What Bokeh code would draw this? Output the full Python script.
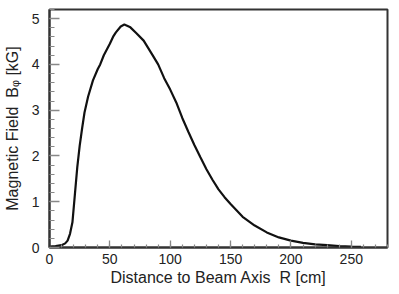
from bokeh.plotting import figure
from bokeh.models import Range1d, SingleIntervalTicker
from bokeh.embed import file_html
from bokeh.resources import INLINE

# Data
radius_cm = [0, 5, 10, 13, 15, 17, 19, 21, 23, 25, 27, 29, 32, 36, 40, 42, 45, 50, 53, 55,
             59, 62, 67, 72, 78, 85, 90, 95, 100, 105, 110, 115, 120, 125, 130, 135, 140,
             145, 150, 160, 170, 180, 190, 200, 210, 220, 230, 240, 250, 258]
field_kG = [0.02, 0.03, 0.05, 0.09, 0.15, 0.3, 0.55, 1.15, 1.75, 2.22, 2.6, 2.95, 3.3, 3.65,
            3.9, 4.0, 4.2, 4.45, 4.62, 4.7, 4.83, 4.87, 4.81, 4.68, 4.52, 4.22, 4.0, 3.7,
            3.45, 3.17, 2.83, 2.53, 2.24, 1.97, 1.71, 1.48, 1.27, 1.1, 0.95, 0.67, 0.48,
            0.33, 0.22, 0.15, 0.1, 0.07, 0.05, 0.03, 0.02, 0.015]

x_start, x_end = 0, 280
y_start, y_end = 0, 5.2
x_title = "Distance to Beam Axis \u00a0R [cm]"
y_title = "Magnetic Field \u00a0B\u1d69 [kG]"

W, H = 397, 292
BL, BR, BT, BB = 49, 10, 9, 45

p = figure(width=W, height=H, output_backend="svg", toolbar_location=None,
           x_range=Range1d(x_start, x_end), y_range=Range1d(y_start, y_end),
           min_border_left=BL, min_border_right=BR, min_border_top=BT, min_border_bottom=BB)

p.line(radius_cm, field_kG, line_color="#111111", line_width=2.2)

p.xgrid.visible = False
p.ygrid.visible = False
p.outline_line_color = "#333333"
p.outline_line_width = 2
p.background_fill_color = "white"
p.border_fill_color = "white"

FONT = "Liberation Sans"

xa = p.xaxis[0]
xa.ticker = SingleIntervalTicker(interval=50, num_minor_ticks=5)
xa.axis_label = x_title
ya = p.yaxis[0]
ya.ticker = SingleIntervalTicker(interval=1, num_minor_ticks=5)
ya.axis_label = y_title

for ax in (xa, ya):
    ax.axis_line_color = "#333333"
    ax.axis_line_width = 2
    ax.major_tick_line_color = "#888888"
    ax.minor_tick_line_color = "#888888"
    ax.major_tick_line_width = 1.3
    ax.minor_tick_line_width = 1.2
    ax.major_tick_out = 0
    ax.minor_tick_out = 0
    ax.major_label_text_font = FONT
    ax.major_label_text_font_size = "14px"
    ax.major_label_text_color = "#222222"
    ax.axis_label_text_font = FONT
    ax.axis_label_text_font_size = "16px"
    ax.axis_label_text_font_style = "normal"
    ax.axis_label_text_color = "#222222"

xa.major_tick_in = 7
xa.minor_tick_in = 3
xa.major_label_standoff = 6
xa.axis_label_standoff = 2
ya.major_tick_in = 10
ya.minor_tick_in = 5
ya.major_label_standoff = 10
ya.axis_label_standoff = 8

open("out.html", "w").write(file_html(p, INLINE))
